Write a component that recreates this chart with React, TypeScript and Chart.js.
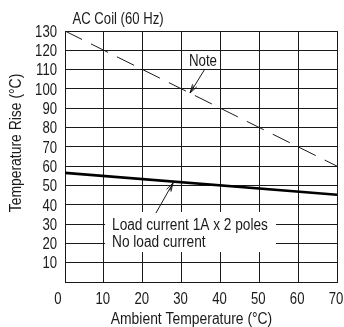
import React, { useEffect, useRef } from "react";
import { Chart, registerables } from "chart.js";

Chart.register(...registerables);

// Data
const ambientTemps = [0, 70];
const noteRise = [130, 60];
const loadRise = [56.5, 45.2];
const xTicks = [0, 10, 20, 30, 40, 50, 60, 70];
const yTicks = [0, 10, 20, 30, 40, 50, 60, 70, 80, 90, 100, 110, 120, 130];
const yTickLabels = ["", "10", "20", "30", "40", "50", "60", "70", "80", "90", "100", "110", "120", "130"];
const xTickLabels = ["0", "10", "20", "30", "40", "50", "60", "70"];

const chartTitle = "AC Coil (60 Hz)";
const xTitle = "Ambient Temperature (°C)";
const yTitle = "Temperature Rise (°C)";
const noteLabel = "Note";
const loadLabel = "Load current 1A x 2 poles";
const noLoadLabel = "No load current";

const FONT = '"Liberation Sans", Arial, sans-serif';
const INK = "#1a1a1a";

function txt(
  ctx: CanvasRenderingContext2D,
  s: string,
  x: number,
  y: number,
  align: CanvasTextAlign,
  sx: number,
  rot = 0
) {
  ctx.save();
  ctx.translate(x, y);
  if (rot) ctx.rotate(rot);
  ctx.scale(sx, 1);
  ctx.textAlign = align;
  ctx.textBaseline = "alphabetic";
  ctx.fillText(s, 0, 0);
  ctx.restore();
}

function arrow(ctx: CanvasRenderingContext2D, x1: number, y1: number, x2: number, y2: number) {
  ctx.beginPath();
  ctx.moveTo(x1, y1);
  ctx.lineTo(x2, y2);
  ctx.stroke();
  const ang = Math.atan2(y2 - y1, x2 - x1);
  const len = 9;
  const spread = 0.28;
  ctx.beginPath();
  ctx.moveTo(x2 - len * Math.cos(ang - spread), y2 - len * Math.sin(ang - spread));
  ctx.lineTo(x2, y2);
  ctx.lineTo(x2 - len * Math.cos(ang + spread), y2 - len * Math.sin(ang + spread));
  ctx.stroke();
  ctx.beginPath();
  ctx.moveTo(x2 - len * 0.9 * Math.cos(ang - spread * 0.4), y2 - len * 0.9 * Math.sin(ang - spread * 0.4));
  ctx.lineTo(x2, y2);
  ctx.stroke();
}

const annotationPlugin = {
  id: "annotations",
  afterDraw(chart: any) {
    const ctx = chart.ctx as CanvasRenderingContext2D;
    const xs = chart.scales.x;
    const ys = chart.scales.y;
    const px = (v: number) => xs.getPixelForValue(v);
    const py = (v: number) => ys.getPixelForValue(v);
    ctx.save();
    ctx.fillStyle = INK;
    ctx.strokeStyle = INK;
    ctx.font = `16px ${FONT}`;

    // Tick labels
    yTicks.forEach((v, i) => {
      const l = yTickLabels[i];
      if (l) txt(ctx, l, xs.left - 8, py(v) + 5.8, "right", 0.82);
    });
    xTicks.forEach((v, i) => {
      const shift = i === 0 ? -7 : -1;
      txt(ctx, xTickLabels[i], px(v) + shift, ys.bottom + 21.5, "center", 0.82);
    });

    // Chart title
    txt(ctx, chartTitle, 72.5, 23.5, "left", 0.82);

    // X title
    txt(ctx, xTitle, 191.5, 324, "center", 0.868);

    // Y title
    txt(ctx, yTitle, 21, 143, "center", 0.87, -Math.PI / 2);

    // Note label + arrow
    txt(ctx, noteLabel, px(31.9), py(111.9), "left", 0.83);
    ctx.lineWidth = 1;
    arrow(ctx, px(36), py(110.3), px(32.2), py(97.9));

    // Legend box
    ctx.fillStyle = "#ffffff";
    const bx1 = px(10.3), bx2 = px(54.3), by1 = py(36.3), by2 = py(15.5);
    ctx.fillRect(bx1, by1, bx2 - bx1, by2 - by1);
    ctx.fillStyle = INK;
    txt(ctx, loadLabel, px(12.1), py(26.9), "left", 0.855);
    txt(ctx, noLoadLabel, px(12.1), py(18.1), "left", 0.855);
    arrow(ctx, px(23.4), py(35.7), px(27.8), py(51.3));

    ctx.restore();
  },
};

export default function App() {
  const ref = useRef<HTMLCanvasElement | null>(null);
  useEffect(() => {
    document.body.style.margin = "0";
    if (!ref.current) return;
    const chart = new Chart(ref.current, {
      type: "line",
      data: {
        datasets: [
          {
            label: "Note",
            data: ambientTemps.map((x, i) => ({ x, y: noteRise[i] })),
            borderColor: INK,
            borderWidth: 1,
            borderDash: [19, 10],
            pointRadius: 0,
            fill: false,
          },
          {
            label: "Load",
            data: ambientTemps.map((x, i) => ({ x, y: loadRise[i] })),
            borderColor: "#000",
            borderWidth: 2.6,
            pointRadius: 0,
            fill: false,
          },
        ],
      },
      options: {
        animation: false,
        responsive: true,
        maintainAspectRatio: false,
        layout: { padding: { left: 0, right: 7, top: 31, bottom: 0 } },
        plugins: { legend: { display: false }, tooltip: { enabled: false }, title: { display: false } },
        scales: {
          x: {
            type: "linear",
            min: 0,
            max: 70,
            afterBuildTicks: (s: any) => {
              s.ticks = xTicks.map((v) => ({ value: v }));
            },
            afterFit: (s: any) => {
              s.height = 45;
            },
            ticks: { display: false },
            grid: { color: INK, lineWidth: 1, drawTicks: false },
            border: { color: INK, width: 1 },
          },
          y: {
            type: "linear",
            min: 0,
            max: 130,
            afterBuildTicks: (s: any) => {
              s.ticks = yTicks.map((v) => ({ value: v }));
            },
            afterFit: (s: any) => {
              s.width = 65;
            },
            ticks: { display: false },
            grid: { color: INK, lineWidth: 1, drawTicks: false },
            border: { color: INK, width: 1 },
          },
        },
      },
      plugins: [annotationPlugin],
    });
    return () => chart.destroy();
  }, []);
  return (
    <div style={{ width: 344, height: 327, position: "relative" }}>
      <canvas ref={ref} />
    </div>
  );
}
